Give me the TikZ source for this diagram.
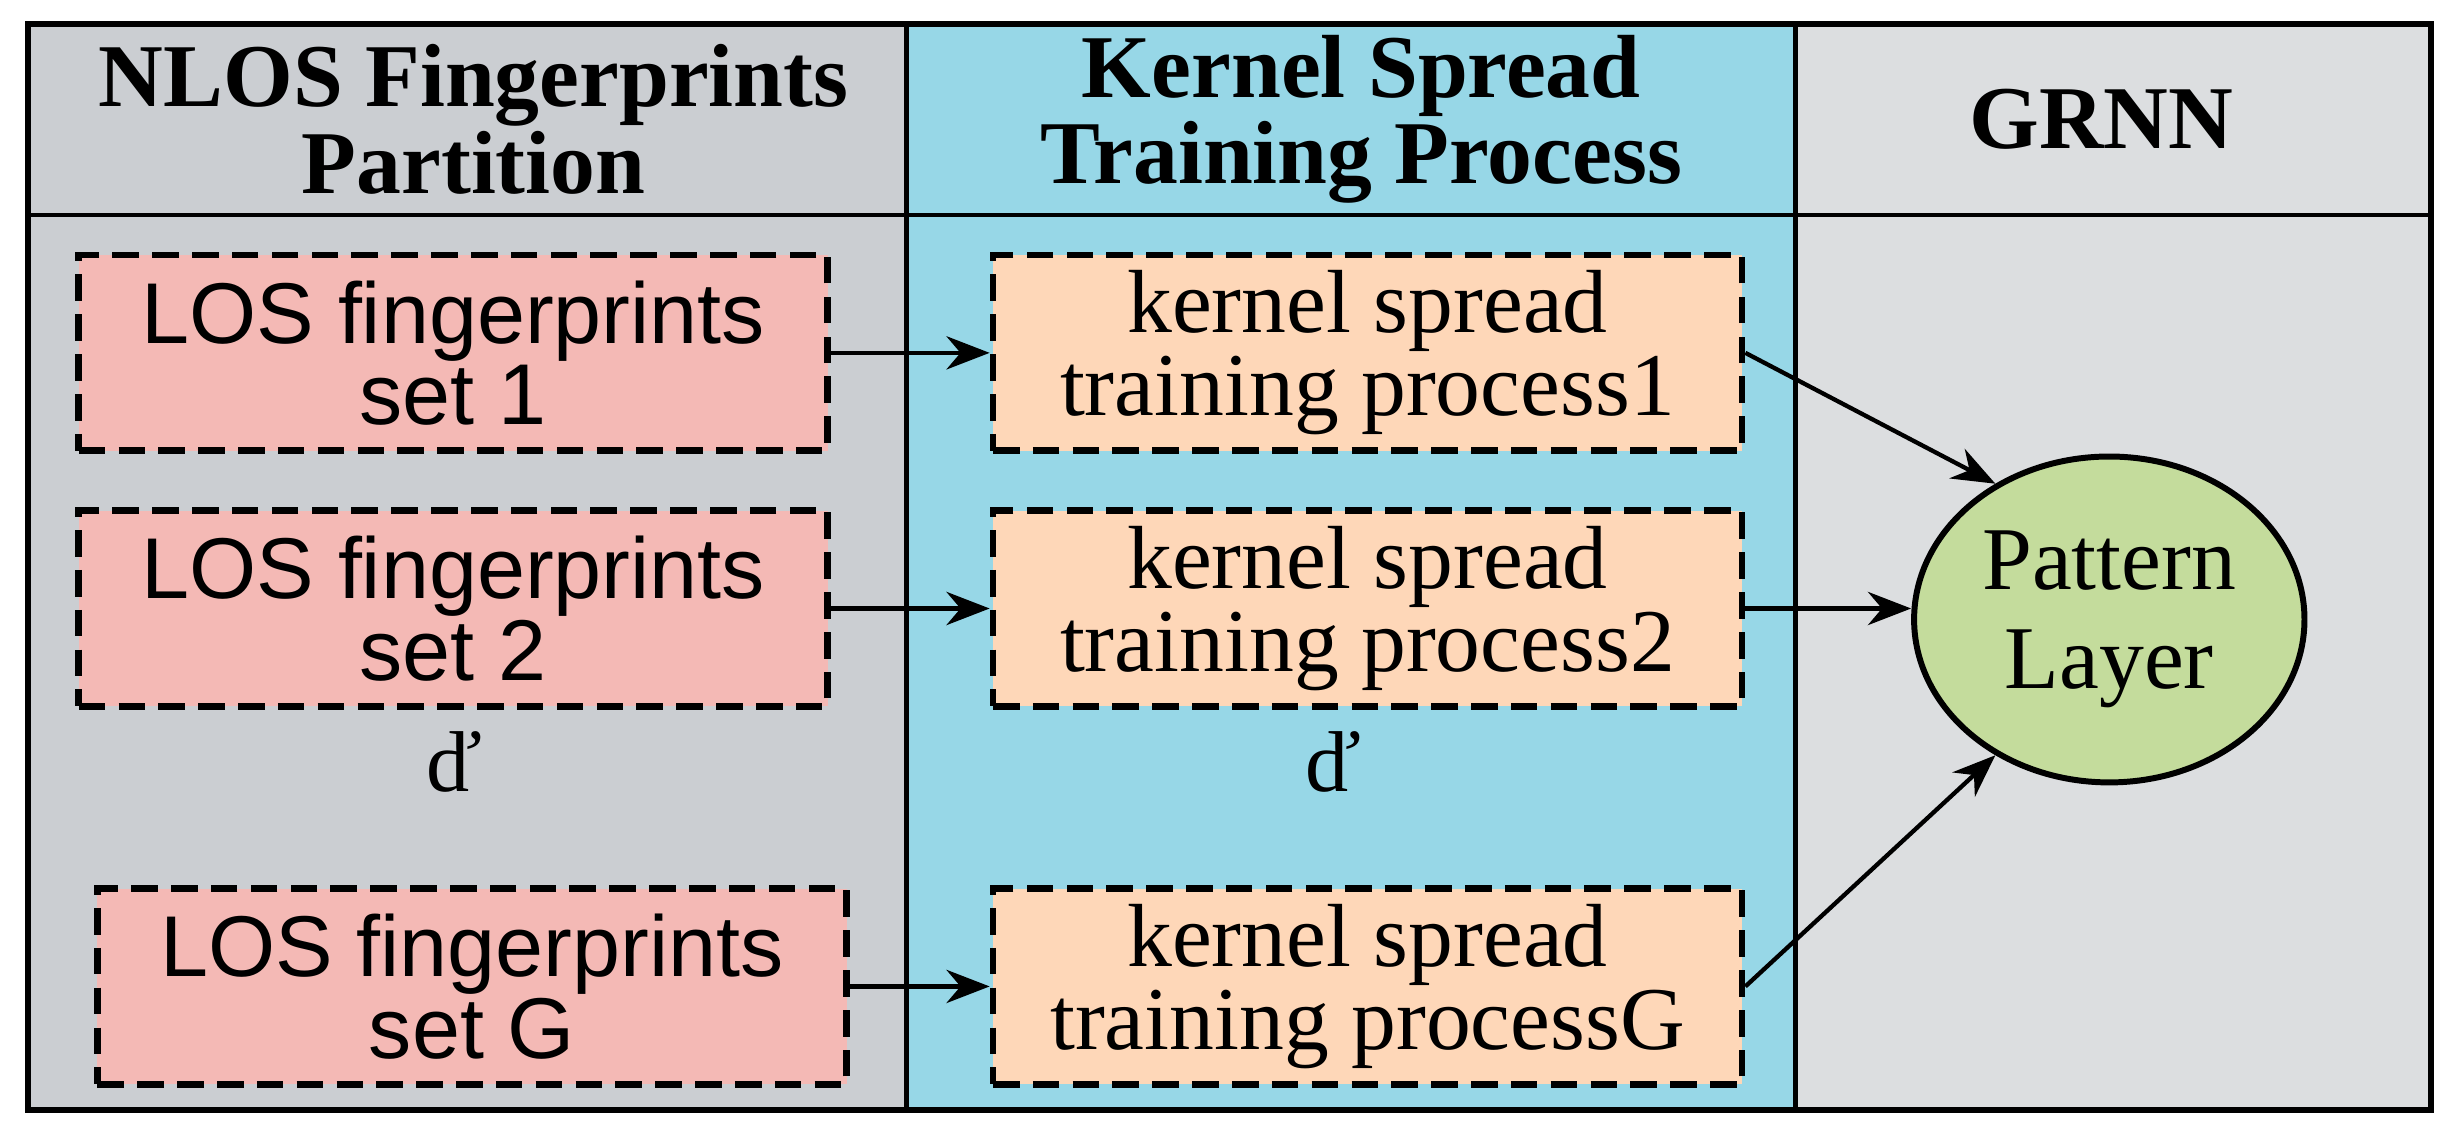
\documentclass[tikz,border=0pt]{standalone}
\usepackage{fontspec}
\setmainfont{Liberation Serif}
\newfontfamily\sansf{Liberation Sans}
\usetikzlibrary{arrows.meta,shapes.geometric}
\definecolor{pgray}{HTML}{CBCED2}
\definecolor{pblue}{HTML}{97D7E7}
\definecolor{rgray}{HTML}{DCDEE0}
\definecolor{pinkf}{HTML}{F4B9B5}
\definecolor{orf}{HTML}{FED7B8}
\definecolor{grf}{HTML}{C4DC9C}
\begin{document}
\begin{tikzpicture}[x=0.0166cm,y=-0.0166cm,
 box/.style={draw,line width=2pt,dash pattern=on 8pt off 4pt,minimum width=7.93cm,minimum height=2.07cm,align=center,inner sep=0pt},
 pbox/.style={box,fill=pinkf,font=\sansf\fontsize{26}{22}\selectfont},
 obox/.style={box,fill=orf,font=\fontsize{27}{25}\selectfont},
 hd/.style={font=\bfseries\fontsize{27}{26}\selectfont,align=center},
 arr/.style={-{Stealth[length=13pt,width=10pt]},line width=1.3pt},
 dots/.style={font=\fontsize{26}{26}\selectfont}]
\useasboundingbox (0,0) rectangle (1568,729);
\fill[pgray] (18,15) rectangle (578,708);
\fill[pblue] (578,15) rectangle (1145,708);
\fill[rgray] (1145,15) rectangle (1550,708);
\draw[line width=1.8pt] (18,15) rectangle (1550,708);
\draw[line width=1.3pt] (18,137) -- (1550,137) (578,15) -- (578,708) (1145,15) -- (1145,708);
\node[hd] (h1) at (302,76) {NLOS Fingerprints\\Partition};
\node[hd] (h2) at (868,76) {Kernel Spread\\Training Process};
\node[hd] (h3) at (1340,76) {GRNN};
\node[pbox] (p1) at (289,225) {LOS fingerprints\\set 1};
\node[pbox] (p2) at (289,388) {LOS fingerprints\\set 2};
\node[pbox] (p3) at (301,629) {LOS fingerprints\\set G};
\node[obox] (o1) at (872,225) {kernel spread\\training process1};
\node[obox] (o2) at (872,388) {kernel spread\\training process2};
\node[obox] (o3) at (872,629) {kernel spread\\training processG};
\node[dots] (d1) at (290,486) {ď};
\node[dots] (d2) at (850,486) {ď};
\node[ellipse,draw,line width=1.8pt,fill=grf,minimum width=3.95cm,minimum height=3.45cm,align=center,font=\fontsize{27}{30}\selectfont] (pl) at (1345,395) {Pattern\\Layer};
\draw[arr] (p1) -- (o1);
\draw[arr] (p2) -- (o2);
\draw[arr] (p3) -- (o3);
\draw[arr] (o1.east) -- (pl.130);
\draw[arr] (o2.east) -- (pl.west |- o2.east);
\draw[arr] (o3.east) -- (pl.230);
\end{tikzpicture}
\end{document}
